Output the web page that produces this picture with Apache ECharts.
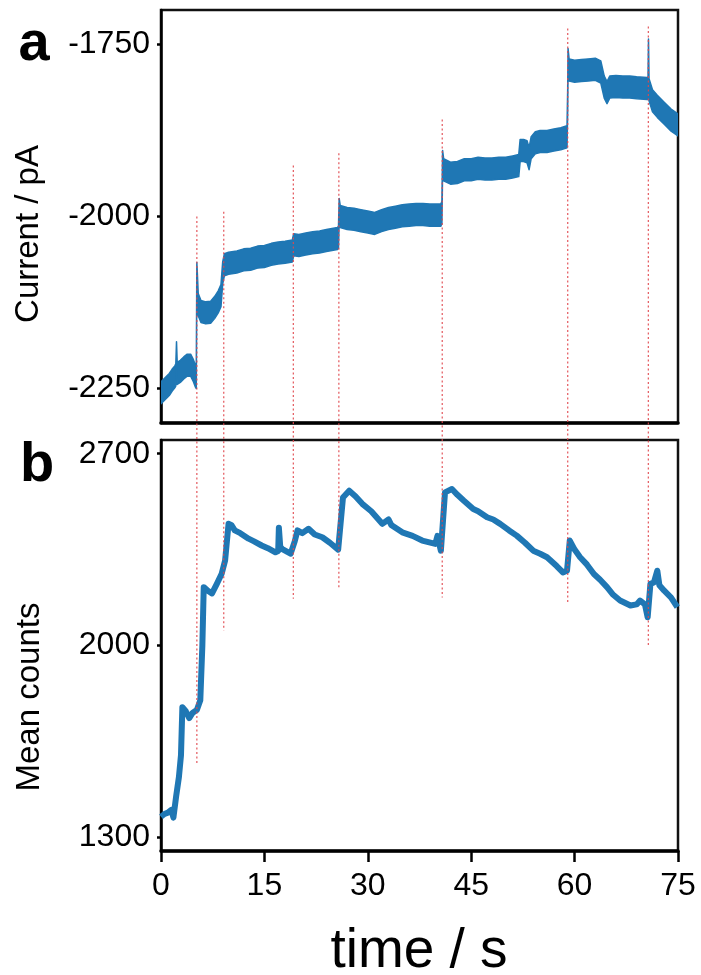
<!DOCTYPE html>
<html><head><meta charset="utf-8">
<script src="https://cdn.jsdelivr.net/npm/echarts@6/dist/echarts.min.js"></script>
<style>html,body{margin:0;padding:0;background:#fff}#c{width:701px;height:975px}</style>
</head><body><div id="c"></div>
<script>
// ---- Data ----
const xTicks = [0, 15, 30, 45, 60, 75];
const currentTicks = [-2250, -2000, -1750];
const countTicks = [1300, 2000, 2700];

// Panel a: ionic current trace (centre of the noisy band), pA
const timeA = [0.0,0.4,0.8,1.2,1.6,2.0,2.15,2.25,2.35,2.8,3.3,3.8,4.3,4.7,5.0,5.12,5.2,5.28,5.4,5.8,6.5,7.2,7.8,8.3,8.7,8.95,9.2,9.8,11,12,13,14,15,16,17,18,19.05,19.25,20,21,22,23,24,25.6,25.75,25.85,26.0,27,28,29,30,31,32,33,34,35,36,37,38,39,40.6,40.75,40.85,41.0,42,43,44,45,46,47,48,49,50,51,51.9,52.1,52.6,53.1,53.4,53.7,54.3,55,56,57,58,58.9,59.0,59.05,59.2,60,61,62,63,63.8,64.3,64.7,65.1,66,67,68,69,70.5,70.65,70.72,70.8,71.3,72,73,74,75];
const currentMid = [-2256,-2252,-2248,-2244,-2238,-2233,-2230,-2198,-2228,-2225,-2220,-2216,-2216,-2224,-2232,-2234,-2083,-2100,-2128,-2138,-2140,-2139,-2132,-2124,-2115,-2082,-2070,-2068,-2066,-2063,-2062,-2059,-2058,-2055,-2053,-2052,-2050,-2041,-2042,-2040,-2038,-2037,-2035,-2032,-2030,-1990,-2000,-2003,-2004,-2006,-2008,-2010,-2006,-2003,-2001,-1999,-1998,-1997,-1997,-1998,-1998,-1994,-1920,-1932,-1937,-1936,-1932,-1932,-1930,-1931,-1931,-1930,-1930,-1928,-1926,-1904,-1904,-1906,-1916,-1900,-1893,-1891,-1891,-1889,-1887,-1884,-1830,-1772,-1787,-1789,-1788,-1787,-1786,-1790,-1812,-1820,-1812,-1811,-1812,-1812,-1813,-1814,-1814,-1758,-1816,-1832,-1840,-1850,-1860,-1867];
const noiseHalfWidth = 16; // half thickness of the noisy current band, pA

// Panel b: mean counts trace
const timeB = [0.0,0.5,1.0,1.5,1.8,2.2,2.6,2.9,3.1,3.6,4.1,4.6,5.2,5.7,6.0,6.2,6.8,7.4,8.1,8.8,9.3,9.8,10.2,10.7,11.5,12.7,13.5,14.6,15.5,16.6,17.0,17.1,17.3,17.6,18.8,19.4,19.8,20.5,21.4,22.3,23.4,24.5,25.7,26.4,27.3,28.2,29.2,30.5,32.1,33.0,33.4,35.0,36.5,37.9,39.8,40.1,40.6,41.2,42.2,43.0,43.9,45.3,46.0,47.3,48.2,49.2,50.5,51.6,52.8,54.0,55.0,56.0,57.4,58.3,58.9,59.3,60.0,60.8,61.8,62.8,63.7,64.7,65.6,66.6,68.1,69.0,69.5,70.2,70.6,71.0,71.5,72.0,72.3,73.0,74.0,74.9];
const meanCounts = [1375,1385,1390,1400,1372,1450,1520,1600,1775,1760,1735,1755,1765,1800,2000,2213,2200,2190,2225,2262,2310,2444,2440,2420,2410,2390,2380,2365,2355,2340,2345,2430,2360,2352,2335,2380,2420,2410,2426,2405,2395,2375,2350,2540,2565,2545,2517,2490,2444,2460,2440,2413,2400,2383,2371,2400,2346,2559,2571,2550,2529,2498,2490,2468,2460,2444,2420,2401,2375,2346,2335,2322,2290,2267,2273,2383,2350,2322,2295,2261,2240,2213,2185,2164,2146,2150,2164,2150,2103,2225,2230,2273,2220,2200,2175,2140];

// Event markers (red dotted lines): time, top end in panel a (pA), bottom end in panel b (counts)
const eventTimes = [5.2, 9.1, 19.2, 25.8, 40.8, 59.0, 70.7];
const eventTopCurrent = [-2000, -1993, -1926, -1908, -1859, -1727, -1724];
const eventBottomCounts = [1570, 2055, 2171, 2211, 2175, 2157, 2000];

// ---- Chart ----
const FONT = "'Liberation Sans', Arial, Helvetica, sans-serif";
const BLUE = '#1f77b4';
const chart = echarts.init(document.getElementById('c'), null, {renderer: 'canvas'});

const countsData = timeB.map((t, i) => [t, meanCounts[i]]);
const plain = (v) => String(v);

function renderBand(params, api) {
  const upper = timeA.map((t, i) => api.coord([t, currentMid[i] + noiseHalfWidth]));
  const lower = timeA.map((t, i) => api.coord([t, currentMid[i] - noiseHalfWidth])).reverse();
  return {
    type: 'polygon',
    shape: {points: upper.concat(lower)},
    style: {fill: BLUE, stroke: BLUE, lineWidth: 1.5, lineJoin: 'round'}
  };
}

const option = {
  animation: false,
  backgroundColor: '#fff',
  grid: [
    {left: 161, right: 23, top: 10, height: 413, show: true, borderColor: '#111', borderWidth: 2.5, containLabel: false},
    {left: 161, right: 23, top: 440, height: 411, show: true, borderColor: '#111', borderWidth: 2.5, containLabel: false}
  ],
  xAxis: [
    {gridIndex: 0, type: 'value', min: 0, max: 75, interval: 15,
      axisLine: {show: true, onZero: false, lineStyle: {color: '#000', width: 3.5}},
      axisTick: {show: false}, axisLabel: {show: false}, splitLine: {show: false}},
    {gridIndex: 1, type: 'value', min: 0, max: 75, interval: 15,
      axisLine: {show: true, onZero: false, lineStyle: {color: '#000', width: 3.5}},
      axisTick: {show: true, inside: false, length: 11, lineStyle: {color: '#000', width: 2.5}},
      axisLabel: {show: true, customValues: xTicks, formatter: plain, fontSize: 32, fontFamily: FONT, color: '#000', margin: 19},
      splitLine: {show: false}}
  ],
  yAxis: [
    {gridIndex: 0, type: 'value', min: -2300, max: -1700,
      axisLine: {show: true, onZero: false, lineStyle: {color: '#000', width: 2.5}},
      axisTick: {show: true, inside: false, length: 4, customValues: currentTicks, lineStyle: {color: '#000', width: 2.5}},
      axisLabel: {show: true, customValues: currentTicks, formatter: plain, fontSize: 32, fontFamily: FONT, color: '#000', margin: 11, padding: [6, 0, 0, 0]},
      splitLine: {show: false}},
    {gridIndex: 1, type: 'value', min: 1250, max: 2750,
      axisLine: {show: true, onZero: false, lineStyle: {color: '#000', width: 2.5}},
      axisTick: {show: true, inside: false, length: 4, customValues: countTicks, lineStyle: {color: '#000', width: 2.5}},
      axisLabel: {show: true, customValues: countTicks, formatter: plain, fontSize: 32, fontFamily: FONT, color: '#000', margin: 11, padding: [6, 0, 0, 0]},
      splitLine: {show: false}}
  ],
  series: [
    {type: 'custom', xAxisIndex: 0, yAxisIndex: 0, data: [[timeA[0], currentMid[0]]],
      renderItem: renderBand, silent: true, clip: true},
    {type: 'line', xAxisIndex: 1, yAxisIndex: 1, data: countsData,
      symbol: 'none', lineStyle: {width: 6, color: BLUE, join: 'round'}, silent: true}
  ]
};
chart.setOption(option);

// Texts + event lines (positions of lines from the library's own coordinate conversion)
const graphics = [
  {type: 'text', id: 'lab_a', x: 34, y: 45, style: {text: 'a', font: "bold 56px " + FONT, fill: '#000', textAlign: 'center', textVerticalAlign: 'middle'}},
  {type: 'text', id: 'lab_b', x: 37, y: 466, style: {text: 'b', font: "bold 56px " + FONT, fill: '#000', textAlign: 'center', textVerticalAlign: 'middle'}},
  {type: 'text', id: 'ylab_a', x: 29, y: 234, rotation: Math.PI / 2, style: {text: 'Current / pA', font: "33px " + FONT, fill: '#000', textAlign: 'center', textVerticalAlign: 'middle'}},
  {type: 'text', id: 'ylab_b', x: 30, y: 697, rotation: Math.PI / 2, style: {text: 'Mean counts', font: "33px " + FONT, fill: '#000', textAlign: 'center', textVerticalAlign: 'middle'}},
  {type: 'text', id: 'xlab', x: 419, y: 952, style: {text: 'time / s', font: "55px " + FONT, fill: '#000', textAlign: 'center', textVerticalAlign: 'middle'}}
];
eventTimes.forEach((t, i) => {
  const p1 = chart.convertToPixel({xAxisIndex: 0, yAxisIndex: 0}, [t, eventTopCurrent[i]]);
  const p2 = chart.convertToPixel({xAxisIndex: 1, yAxisIndex: 1}, [t, eventBottomCounts[i]]);
  graphics.push({type: 'line', id: 'ev' + i, silent: true, z: 50,
    shape: {x1: p1[0], y1: p1[1], x2: p2[0], y2: p2[1]},
    style: {stroke: '#e0474c', lineWidth: 1.3, lineDash: [2, 2.5], opacity: 0.85}});
});
chart.setOption({graphic: graphics});
</script>
</body></html>
